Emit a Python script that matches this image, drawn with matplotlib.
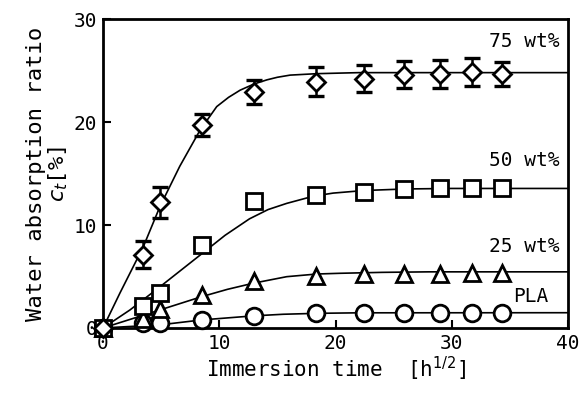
import matplotlib
matplotlib.use("Agg")
import matplotlib.pyplot as plt

plt.rcParams['font.family'] = ['DejaVu Sans Mono']
plt.rcParams['mathtext.fontset'] = 'dejavusans'

# measured points (x = sqrt of immersion hours)
t_sqrt = [0, 3.46, 4.90, 8.49, 12.96, 18.33, 22.45, 25.92, 28.98, 31.75, 34.29]
c75 = [0, 7.1, 12.2, 19.7, 22.9, 23.9, 24.2, 24.6, 24.7, 24.9, 24.7]
err75 = [0, 1.3, 1.5, 1.1, 1.15, 1.4, 1.3, 1.3, 1.35, 1.35, 1.15]
c50 = [0, 2.1, 3.4, 8.05, 12.3, 12.9, 13.2, 13.45, 13.55, 13.6, 13.55]
c25 = [0, 0.9, 1.8, 3.2, 4.6, 5.0, 5.2, 5.25, 5.25, 5.3, 5.3]
cpla = [0, 0.45, 0.45, 0.8, 1.15, 1.42, 1.45, 1.45, 1.45, 1.45, 1.45]

# fitted curves
fit75_x = [0, 1.46, 3.47, 4.9, 6.6, 8.34, 9.78, 10.8, 11.8, 13.0, 14.1, 15.0, 16.1, 18.4, 22, 40]
fit75_y = [0, 3.4, 7.9, 11.8, 15.7, 19.2, 21.5, 22.4, 23.1, 23.7, 24.1, 24.35, 24.56, 24.7, 24.8, 24.8]
fit50_x = [0, 2.32, 4.9, 8.49, 10.5, 12.6, 14.2, 15.8, 18.1, 19.8, 22.45, 26, 30, 40]
fit50_y = [0, 1.75, 4.0, 7.2, 9.0, 10.6, 11.5, 12.1, 12.8, 13.1, 13.35, 13.5, 13.55, 13.55]
fit25_x = [0, 4.9, 8.49, 10.7, 12.9, 15.8, 18.4, 20.4, 24, 28, 40]
fit25_y = [0, 1.75, 3.04, 3.75, 4.34, 4.98, 5.24, 5.31, 5.4, 5.45, 5.45]
fitpla_x = [0, 4.9, 8.49, 12.9, 15.5, 18.4, 22, 40]
fitpla_y = [0, 0.3, 0.78, 1.17, 1.33, 1.42, 1.47, 1.48]

labels = ["75 wt%", "50 wt%", "25 wt%", "PLA"]
label_pos = [(39.3, 27.8), (39.3, 16.3), (39.3, 7.96), (38.3, 3.1)]

fig = plt.figure(figsize=(5.82, 3.98), dpi=100)
ax = fig.add_axes([0.177, 0.176, 0.799, 0.776])

for fx, fy in [(fit75_x, fit75_y), (fit50_x, fit50_y), (fit25_x, fit25_y), (fitpla_x, fitpla_y)]:
    ax.plot(fx, fy, color='black', lw=1.2, zorder=2)

ax.errorbar(t_sqrt[1:], c75[1:], yerr=err75[1:], fmt='none', ecolor='black',
            elinewidth=1.8, capsize=5.5, capthick=2.4, zorder=3)

mk = dict(color='none', mfc='white', mec='black', mew=2.0, zorder=4, clip_on=False)
ax.plot(t_sqrt, cpla, marker='o', ms=12, **mk)
ax.plot(t_sqrt, c25, marker='^', ms=12, **mk)
ax.plot(t_sqrt, c50, marker='s', ms=12, **mk)
ax.plot(t_sqrt, c75, marker='D', ms=9, **mk)

for lab, (lx, ly) in zip(labels, label_pos):
    ax.text(lx, ly, lab, ha='right', va='center', fontsize=14)

ax.set_xlim(0, 40)
ax.set_ylim(0, 30)
ax.set_xticks([0, 10, 20, 30, 40])
ax.set_yticks([0, 10, 20, 30])
ax.tick_params(direction='in', length=6, width=1.5, labelsize=14, top=False, right=False, pad=4)
for s in ax.spines.values():
    s.set_linewidth(2)

ax.set_xlabel(r"Immersion time  [h$^{1/2}$]", fontsize=15, labelpad=2)
ax.set_ylabel("Water absorption ratio\n$c_t$[%]", fontsize=16, labelpad=3, linespacing=1.0)

fig.savefig("out.png", dpi=100)
